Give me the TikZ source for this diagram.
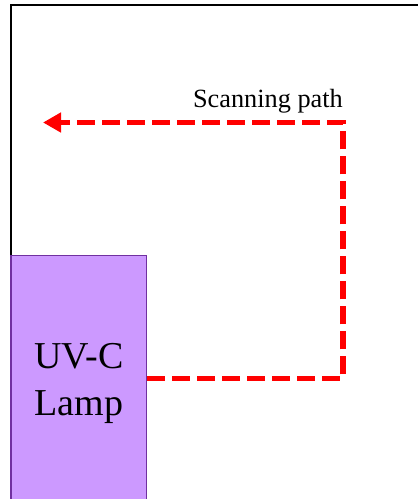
\documentclass[tikz,border=0pt]{standalone}
\usepackage{fontspec}
\setmainfont{Liberation Serif}
\usetikzlibrary{arrows.meta,calc}
\definecolor{lampfill}{HTML}{CC99FF}
\definecolor{lampedge}{HTML}{7030A0}
\definecolor{scanred}{HTML}{FF0000}
\begin{document}
\begin{tikzpicture}[x=1pt,y=-1pt,
  frame/.style={line width=2pt,black},
  lampbox/.style={draw=lampedge,fill=lampfill,line width=1.5pt,minimum width=135.5pt,minimum height=246pt,inner sep=0pt},
  lamplabel/.style={font=\fontsize{38}{47}\selectfont,align=center,inner sep=0pt},
  scan/.style={draw=scanred,line width=5.5pt,dash pattern=on 18pt off 7pt,-{Triangle[length=18pt,width=19pt]}},
  scanlabel/.style={font=\fontsize{26.3}{31}\selectfont,inner sep=0pt,anchor=base east}]
\useasboundingbox (0,0) rectangle (418,499);
\draw[frame] (11,256) -- (11,5) -- (420,5);
\node[lampbox] (lamp) at (78.75,378.5) {};
\node[lamplabel] (lamptext) at ($(lamp.center)+(0,5)$) {UV-C\\Lamp};
\coordinate (turn) at (343,0 |- lamp.east);
\coordinate (corner) at (343,122.5);
\coordinate (tip) at (43,122.5);
\draw[scan] (lamp.east) -- (turn) -- (corner) -- (tip);
\node[scanlabel] (label) at ($(corner)+(0,-15.5)$) {Scanning path};
\end{tikzpicture}
\end{document}
